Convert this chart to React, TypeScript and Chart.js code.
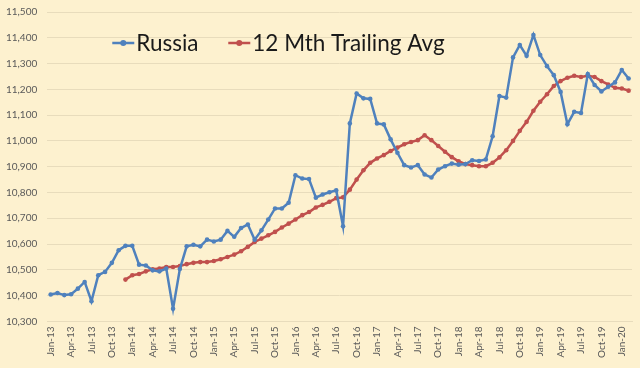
import React, { useEffect, useRef } from "react";
import { Chart, registerables } from "chart.js";

Chart.register(...registerables);

const MONTHS = ["Jan", "Feb", "Mar", "Apr", "May", "Jun", "Jul", "Aug", "Sep", "Oct", "Nov", "Dec"];
const FIRST_YEAR = 13;
const N_POINTS = 86; // Jan-13 .. Feb-20

const categories: string[] = [];
for (let i = 0; i < N_POINTS; i++) {
  categories.push(`${MONTHS[i % 12]}-${FIRST_YEAR + Math.floor(i / 12)}`);
}

const russia: number[] = [
  10404, 10410, 10402, 10405, 10427, 10453, 10378, 10479, 10492, 10527, 10576, 10593,
  10593, 10520, 10517, 10498, 10494, 10505, 10349, 10503, 10591, 10597, 10591, 10617,
  10610, 10617, 10651, 10628, 10662, 10676, 10617, 10653, 10695, 10738, 10738, 10760,
  10867, 10854, 10852, 10780, 10792, 10801, 10808, 10669, 11068, 11184, 11165, 11163,
  11068, 11064, 11006, 10954, 10906, 10897, 10906, 10870, 10858, 10889, 10902, 10912,
  10908, 10910, 10925, 10922, 10928, 11018, 11174, 11168, 11324, 11372, 11330, 11411,
  11333, 11290, 11255, 11190, 11065, 11113, 11108, 11259, 11217, 11192, 11210, 11227,
  11275, 11242,
];

const trailingAvg: (number | null)[] = [
  null, null, null, null, null, null, null, null, null, null, null, 10462,
  10479, 10484, 10494, 10502, 10505, 10511, 10511, 10515, 10522, 10527, 10530, 10530,
  10534, 10541, 10550, 10559, 10572, 10589, 10608, 10621, 10634, 10647, 10664, 10679,
  10695, 10712, 10724, 10742, 10752, 10764, 10778, 10781, 10811, 10850, 10886, 10915,
  10932, 10945, 10961, 10974, 10987, 10996, 11003, 11022, 11003, 10980, 10958, 10937,
  10921, 10910, 10906, 10902, 10902, 10915, 10936, 10964, 11000, 11039, 11074, 11117,
  11152, 11181, 11213, 11232, 11245, 11253, 11248, 11253, 11248, 11232, 11219, 11206,
  11203, 11195,
];

const Y_MIN = 10300;
const Y_MAX = 11500;
const Y_STEP = 100;

const SERIES_NAMES = ["Russia", "12 Mth Trailing Avg"];
const BLUE = "#4F81BD";
const RED = "#C0504D";
const BG = "#FDF1CF";
const GRID = "#E8DCBC";
const TICK = "#595959";

const insideLegend = {
  id: "insideLegend",
  afterDraw(chart: any) {
    const { ctx, chartArea } = chart;
    ctx.save();
    ctx.font = "22.5px Lato";
    ctx.textBaseline = "middle";
    const y = chartArea.top + 31;
    const items = [
      { label: SERIES_NAMES[0], color: BLUE, x: chartArea.left + 65 },
      { label: SERIES_NAMES[1], color: RED, x: chartArea.left + 181 },
    ];
    for (const it of items) {
      ctx.strokeStyle = it.color;
      ctx.lineWidth = 2.5;
      ctx.beginPath();
      ctx.moveTo(it.x, y);
      ctx.lineTo(it.x + 22, y);
      ctx.stroke();
      ctx.fillStyle = it.color;
      ctx.beginPath();
      ctx.arc(it.x + 11, y, 3, 0, Math.PI * 2);
      ctx.fill();
      ctx.fillStyle = "#1a1a1a";
      ctx.fillText(it.label, it.x + 24, y + 1);
    }
    ctx.restore();
  },
};

const bgPlugin = {
  id: "bgFill",
  beforeDraw(chart: any) {
    const { ctx, width, height } = chart;
    ctx.save();
    ctx.fillStyle = BG;
    ctx.fillRect(0, 0, width, height);
    ctx.restore();
  },
};

export default function App() {
  const ref = useRef<HTMLCanvasElement | null>(null);

  useEffect(() => {
    document.body.style.margin = "0";
    document.body.style.background = BG;
    const canvas = ref.current;
    if (!canvas) return;
    const chart = new Chart(canvas, {
      type: "line",
      data: {
        labels: categories,
        datasets: [
          {
            label: SERIES_NAMES[0],
            data: russia,
            borderColor: BLUE,
            backgroundColor: BLUE,
            borderWidth: 2.5,
            pointRadius: 2.3,
            pointBorderWidth: 0,
            pointBackgroundColor: BLUE,
            tension: 0,
          },
          {
            label: SERIES_NAMES[1],
            data: trailingAvg,
            borderColor: RED,
            backgroundColor: RED,
            borderWidth: 2.5,
            pointRadius: 2.3,
            pointBorderWidth: 0,
            pointBackgroundColor: RED,
            tension: 0,
          },
        ],
      },
      options: {
        animation: false,
        responsive: false,
        maintainAspectRatio: false,
        layout: { padding: { top: 12, right: 8, left: -4, bottom: 5 } },
        plugins: {
          legend: { display: false },
          tooltip: { enabled: false },
        },
        scales: {
          x: {
            type: "category",
            offset: true,
            grid: { display: false, drawTicks: false },
            border: { display: true, color: GRID, width: 1 },
            ticks: {
              autoSkip: false,
              maxRotation: 90,
              minRotation: 90,
              padding: 5,
              color: TICK,
              font: { family: "Lato", size: 10 },
              callback: (_v: any, i: number) => (i % 3 === 0 ? categories[i] : null),
            },
          },
          y: {
            min: Y_MIN,
            max: Y_MAX,
            grid: { color: GRID, lineWidth: 1, drawTicks: false },
            border: { display: false },
            afterFit: (scale: any) => {
              scale.paddingTop = 0;
            },
            ticks: {
              stepSize: Y_STEP,
              padding: 10,
              color: TICK,
              font: { family: "Lato", size: 10 },
              callback: (v: any) => Number(v).toLocaleString("en-US"),
            },
          },
        },
      },
      plugins: [bgPlugin, insideLegend],
    });
    return () => chart.destroy();
  }, []);

  return (
    <div style={{ width: 640, height: 368, background: BG }}>
      <canvas ref={ref} width={640} height={368} style={{ display: "block" }} />
    </div>
  );
}
